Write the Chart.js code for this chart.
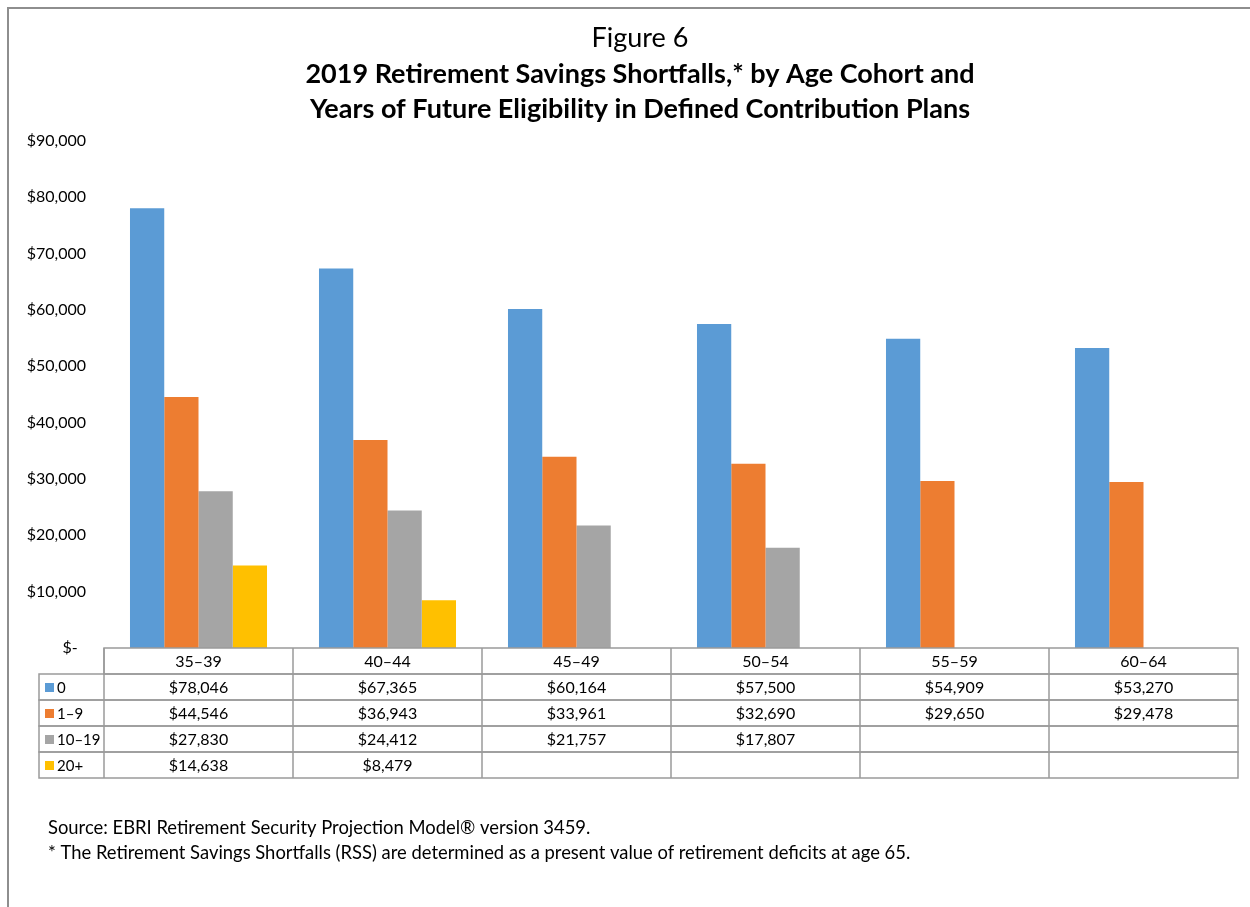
<!DOCTYPE html>
<html>
<head>
<meta charset="utf-8">
<script src="https://cdn.jsdelivr.net/npm/chart.js@4.4.1/dist/chart.umd.min.js"></script>
<style>
    body { margin: 0; background: #fff; overflow: hidden; }
    #frame {
        position: absolute; left: 7px; top: 7px; width: 1260px; height: 920px;
        border-top: 2px solid #8e8e8e; border-left: 2px solid #8e8e8e;
        pointer-events: none;
    }
    canvas { position: absolute; left: 0; top: 0; }
</style>
</head>
<body>
<canvas id="shortfallChart" width="1250" height="907"></canvas>
<div id="frame"></div>
<script>
const ageCohorts = ['35–39', '40–44', '45–49', '50–54', '55–59', '60–64'];
const eligibilityLabels = ['0', '1–9', '10–19', '20+'];
const years0 = [78046, 67365, 60164, 57500, 54909, 53270];
const years1to9 = [44546, 36943, 33961, 32690, 29650, 29478];
const years10to19 = [27830, 24412, 21757, 17807, null, null];
const years20plus = [14638, 8479, null, null, null, null];
const yTicks = [0, 10000, 20000, 30000, 40000, 50000, 60000, 70000, 80000, 90000];
const seriesColors = ['#5B9BD5', '#ED7D31', '#A5A5A5', '#FFC000'];
const figureLabel = 'Figure 6';
const titleLines = [
    '2019 Retirement Savings Shortfalls,* by Age Cohort and',
    'Years of Future Eligibility in Defined Contribution Plans'
];
const footNotes = [
    'Source: EBRI Retirement Security Projection Model\u00AE version 3459.',
    '* The Retirement Savings Shortfalls (RSS) are determined as a present value of retirement deficits at age 65.'
];

const FONT = 'Lato, "Liberation Sans", sans-serif';
const seriesData = [years0, years1to9, years10to19, years20plus];

function money(v) {
    if (v === null || v === undefined) return '';
    return '$' + v.toLocaleString('en-US');
}

// titles on top, data table and notes below the plot
const dataTablePlugin = {
    id: 'dataTable',
    afterDraw(chart) {
        const ctx = chart.ctx;
        const area = chart.chartArea;
        const x = chart.scales.x;
        const colW = (area.right - area.left) / ageCohorts.length;
        const rowH = 26;
        const top = area.bottom;
        const legendLeft = 39;

        ctx.save();
        ctx.fillStyle = '#000';
        ctx.textAlign = 'center';
        ctx.textBaseline = 'middle';
        ctx.font = '27px ' + FONT;
        ctx.fillText(figureLabel, 640, 38);
        ctx.font = 'bold 27px ' + FONT;
        titleLines.forEach((t, i) => ctx.fillText(t, 640, 74 + i * 35));

        ctx.strokeStyle = '#9a9a9a';
        ctx.lineWidth = 1.5;
        ctx.strokeRect(area.left, top, area.right - area.left, rowH);
        for (let r = 0; r < seriesData.length; r++) {
            const y = top + rowH * (r + 1);
            ctx.strokeRect(legendLeft, y, area.right - legendLeft, rowH);
        }
        ctx.beginPath();
        ctx.moveTo(area.left, top);
        ctx.lineTo(area.left, top + rowH * 5);
        for (let i = 1; i < ageCohorts.length; i++) {
            const cx = x.getPixelForValue(i) - colW / 2;
            ctx.moveTo(cx, top);
            ctx.lineTo(cx, top + rowH * 5);
        }
        ctx.stroke();

        ctx.font = '16px ' + FONT;
        ageCohorts.forEach((c, i) => {
            ctx.fillText(c, x.getPixelForValue(i), top + rowH / 2 + 1);
        });
        seriesData.forEach((arr, r) => {
            const cy = top + rowH * (r + 1) + rowH / 2 + 1;
            arr.forEach((v, i) => {
                ctx.fillText(money(v), x.getPixelForValue(i), cy);
            });
        });

        ctx.textAlign = 'left';
        ctx.font = '15px ' + FONT;
        eligibilityLabels.forEach((lab, r) => {
            const cy = top + rowH * (r + 1) + rowH / 2;
            ctx.fillStyle = seriesColors[r];
            ctx.fillRect(45, cy - 4, 9, 9);
            ctx.fillStyle = '#000';
            ctx.fillText(lab, 57, cy + 1);
        });

        ctx.font = '18.4px ' + FONT;
        footNotes.forEach((t, i) => {
            ctx.fillText(t, 48, 828 + i * 25);
        });
        ctx.restore();
    }
};

const ctx = document.getElementById('shortfallChart').getContext('2d');
new Chart(ctx, {
    type: 'bar',
    data: {
        labels: ageCohorts,
        datasets: seriesData.map((arr, i) => ({
            label: eligibilityLabels[i],
            data: arr,
            backgroundColor: seriesColors[i],
            borderWidth: 0,
            categoryPercentage: 0.725,
            barPercentage: 1.0
        }))
    },
    options: {
        responsive: false,
        animation: false,
        layout: {
            padding: { left: 10, right: 12, top: 141, bottom: 259 }
        },
        plugins: {
            legend: { display: false },
            tooltip: { enabled: false },
            title: { display: false }
        },
        scales: {
            x: {
                ticks: { display: false },
                grid: { display: false, drawTicks: false },
                border: { display: false }
            },
            y: {
                min: 0,
                max: 90000,
                afterBuildTicks(scale) {
                    scale.ticks = yTicks.map(v => ({ value: v }));
                },
                afterFit(scale) {
                    scale.width = 94;
                },
                ticks: {
                    padding: 18,
                    color: '#000',
                    font: { family: FONT, size: 16 },
                    callback: v => v === 0 ? '$-  ' : money(v)
                },
                grid: { display: false, drawTicks: false },
                border: { display: false }
            }
        }
    },
    plugins: [dataTablePlugin]
});
</script>
</body>
</html>
